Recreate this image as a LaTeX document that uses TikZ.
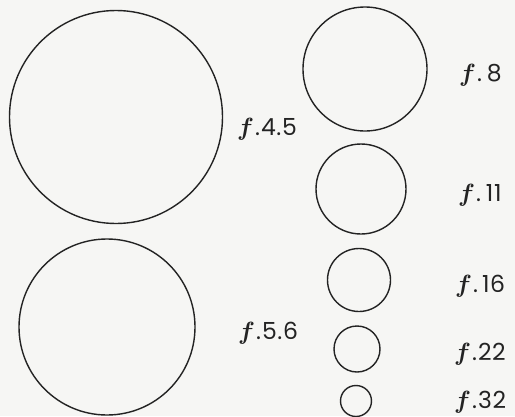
\documentclass[tikz,border=0pt]{standalone}
\usepackage{fontspec}
\usepackage{amsmath}
\setmainfont{Poppins}[LetterSpace=3]
\definecolor{paper}{RGB}{246,246,244}
\definecolor{ink}{RGB}{35,35,35}
\tikzset{
  ring/.style={circle, draw=ink, line width=1.4pt, inner sep=0pt, minimum size=#1},
  flabel/.style={anchor=base west, inner sep=0pt, text=ink, font=\fontsize{23.5}{26}\selectfont},
}
\newcommand{\fst}{{\fontsize{25}{25}\selectfont$\boldsymbol{f}$}\kern1pt.\kern1pt}
\begin{document}
\begin{tikzpicture}[x=1pt,y=-1pt]
\fill[paper] (0,0) rectangle (515,416);
\useasboundingbox (0,0) rectangle (515,416);
\node[ring=213pt] (c45) at (116,117) {};
\node[ring=176pt] (c56) at (107,327) {};
\node[ring=124pt] (c8) at (365,69) {};
\node[ring=90pt] (c11) at (361,189) {};
\node[ring=63pt] (c16) at (359,280) {};
\node[ring=46pt] (c22) at (357,349) {};
\node[ring=31pt] (c32) at (356,401) {};
\node[flabel] (l45) at (237,135) {\fst 4.5};
\node[flabel] (l56) at (238,339) {\fst 5.6};
\node[flabel] (l8) at (459,81.7) {\fst\kern4pt 8};
\node[flabel] (l11) at (458,201.7) {\fst\kern4pt 11};
\node[flabel] (l16) at (455,292.7) {\fst\kern3pt 16};
\node[flabel] (l22) at (454,360) {\fst 22};
\node[flabel] (l32) at (454,408.5) {\fst 32};
\end{tikzpicture}
\end{document}
